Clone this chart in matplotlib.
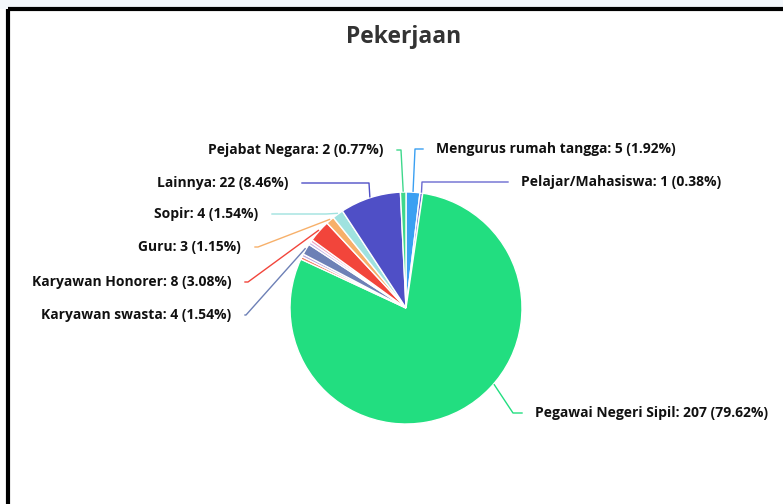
import numpy as np
import matplotlib.pyplot as plt

# data (clockwise from 12 o'clock)
labels = ['Mengurus rumah tangga', 'Pelajar/Mahasiswa', 'Pegawai Negeri Sipil',
          'lain1', 'lain2', 'Karyawan swasta', 'lain3', 'lain4',
          'Karyawan Honorer', 'Guru', 'Sopir', 'Lainnya', 'Pejabat Negara']
values = [5, 1, 207, 1, 1, 4, 1, 1, 8, 3, 4, 22, 2]
show_label = [True, True, True, False, False, True, False, False,
              True, True, True, True, True]
colors = ['#3aa0f2', '#6a6ad0', '#22de80', '#f27a5e', '#b7a4e0', '#6d80b6',
          '#c9b8ea', '#ee9fc2', '#f2453b', '#f7b06a', '#9fe2df', '#4f4fc6', '#3ed88c']

# label layout: (label y, elbow x, line end x) in pixel coords, y from top
label_pos = {
    'Mengurus rumah tangga': (149, 415, 423),
    'Pelajar/Mahasiswa': (182, 422, 508),
    'Pegawai Negeri Sipil': (413, 513, 522),
    'Karyawan swasta': (315, 246, 245),
    'Karyawan Honorer': (282, 248, 245),
    'Guru': (247, 258, 255),
    'Sopir': (214, 326, 272),
    'Lainnya': (183, 369, 302),
    'Pejabat Negara': (150, 401, 397),
}
anchor_override = {'Pegawai Negeri Sipil': -41}  # degrees

W, H = 783, 504
cx, cy, R = 406, 308, 116

plt.rcParams['font.family'] = ['Open Sans', 'DejaVu Sans']
fig = plt.figure(figsize=(W / 100, H / 100), dpi=100)
ax = fig.add_axes([0, 0, 1, 1])

def Y(y):
    return H - y

# frame like the screenshot
ax.fill_between([0, W], Y(0), Y(8), color='#f3f7fb', zorder=0)
ax.plot([8, W], [Y(9), Y(9)], color='black', lw=3, solid_capstyle='butt')
ax.plot([8, 8], [Y(9), 0], color='black', lw=3, solid_capstyle='butt')

wedges, _ = ax.pie(values, colors=colors, startangle=90, counterclock=False,
                   center=(cx, Y(cy)), radius=R, frame=True,
                   wedgeprops=dict(edgecolor='white', linewidth=1.0))
ax.set_xlim(0, W)
ax.set_ylim(0, H)
ax.set_aspect('equal')
ax.axis('off')

total = sum(values)
for w, lab, v, show, c in zip(wedges, labels, values, show_label, colors):
    if not show:
        continue
    a = anchor_override.get(lab, (w.theta1 + w.theta2) / 2)
    ang = np.deg2rad(a)
    ex = cx + (R + 1) * np.cos(ang)
    ey = Y(cy) + (R + 1) * np.sin(ang)
    ly, elx, tx = label_pos[lab]
    right = np.cos(ang) > 0
    ax.plot([ex, elx, tx], [ey, Y(ly), Y(ly)], color=c, lw=1, zorder=1)
    txt = f'{lab}: {v} ({v / total * 100:.2f}%)'
    if right:
        ax.text(tx + 13, Y(ly), txt, ha='left', va='center', fontsize=10,
                fontweight='bold', color='#111111')
    else:
        ax.text(tx - 14, Y(ly), txt, ha='right', va='center', fontsize=10,
                fontweight='bold', color='#111111')

ax.text(404, Y(37), 'Pekerjaan', ha='center', va='center', fontsize=16.5,
        fontweight='bold', color='#333333')

fig.savefig('out.png', dpi=100)
